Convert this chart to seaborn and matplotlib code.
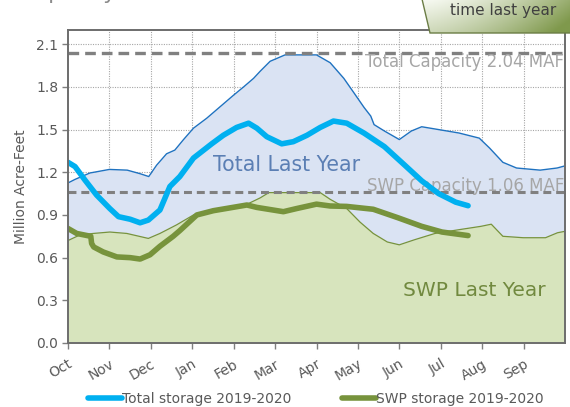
import numpy as np
import pandas as pd
import seaborn as sns
import matplotlib
matplotlib.use("Agg")
import matplotlib.pyplot as plt
from matplotlib.patches import Polygon

# ---------------- data (x in months since Oct 1) ----------------
month_labels = ["Oct", "Nov", "Dec", "Jan", "Feb", "Mar", "Apr", "May", "Jun", "Jul", "Aug", "Sep"]
y_ticks = [0.0, 0.3, 0.6, 0.9, 1.2, 1.5, 1.8, 2.1]

total_last_x = [0, 0.17, 0.53, 1.0, 1.43, 1.74, 1.95, 2.14, 2.38, 2.58, 2.79, 3.03, 3.35, 3.67, 3.99,
                4.24, 4.48, 4.64, 4.88, 5.24, 6.0, 6.33, 6.66, 6.90, 7.15, 7.31, 7.39, 7.64, 8.0,
                8.29, 8.54, 8.95, 9.44, 9.93, 10.18, 10.5, 10.83, 11.4, 11.81, 12.0]
total_last_y = [1.125, 1.15, 1.195, 1.22, 1.215, 1.19, 1.17, 1.25, 1.33, 1.356, 1.43, 1.51, 1.58, 1.66, 1.74,
                1.80, 1.86, 1.91, 1.98, 2.025, 2.025, 1.97, 1.86, 1.76, 1.655, 1.595, 1.535, 1.49, 1.43,
                1.49, 1.52, 1.50, 1.476, 1.44, 1.37, 1.27, 1.23, 1.215, 1.23, 1.245]

swp_last_x = [0, 0.29, 0.61, 1.01, 1.42, 1.94, 2.22, 2.62, 3.03, 3.43, 3.83, 4.32, 4.64, 4.85, 6.09,
              6.33, 6.73, 7.05, 7.37, 7.71, 8.0, 8.37, 8.86, 9.52, 9.97, 10.22, 10.5, 10.99, 11.53,
              11.82, 12.0]
swp_last_y = [0.72, 0.76, 0.77, 0.78, 0.77, 0.735, 0.77, 0.83, 0.90, 0.92, 0.945, 0.975, 1.02, 1.057, 1.057,
              1.01, 0.945, 0.85, 0.77, 0.71, 0.69, 0.726, 0.77, 0.80, 0.82, 0.835, 0.75, 0.74, 0.74,
              0.775, 0.785]

total_now_x = [0, 0.17, 0.41, 0.69, 1.01, 1.22, 1.5, 1.74, 1.94, 2.22, 2.46, 2.70, 3.03, 3.47, 3.75,
               4.07, 4.36, 4.56, 4.80, 5.16, 5.44, 5.77, 6.09, 6.41, 6.73, 7.15, 7.64, 8.13, 8.54,
               8.95, 9.36, 9.66]
total_now_y = [1.27, 1.24, 1.145, 1.04, 0.945, 0.888, 0.87, 0.845, 0.864, 0.935, 1.10, 1.17, 1.30, 1.40, 1.46,
               1.515, 1.545, 1.51, 1.45, 1.40, 1.415, 1.46, 1.515, 1.56, 1.545, 1.475, 1.38, 1.25, 1.14,
               1.05, 0.99, 0.965]

swp_now_x = [0, 0.21, 0.55, 0.57, 0.62, 0.85, 1.18, 1.5, 1.74, 1.98, 2.22, 2.54, 2.7, 3.11, 3.51,
             4.32, 4.56, 5.2, 5.52, 6.0, 6.33, 6.73, 7.37, 7.97, 8.54, 9.03, 9.66]
swp_now_y = [0.805, 0.77, 0.75, 0.70, 0.675, 0.64, 0.605, 0.60, 0.59, 0.62, 0.68, 0.75, 0.79, 0.90, 0.93,
             0.97, 0.953, 0.923, 0.945, 0.976, 0.963, 0.96, 0.94, 0.88, 0.82, 0.78, 0.755]

total_capacity = 2.04
swp_capacity = 1.06

# ---------------- style ----------------
sns.set_style("white")
plt.rcParams["font.family"] = ["DejaVu Sans"]
tick_col = "#595959"

fig = plt.figure(figsize=(5.70, 4.07), dpi=100)
ax = fig.add_axes([68 / 570, 1 - 343 / 407, 497 / 570, 313 / 407])

# grid
for m in range(1, 12):
    ax.axvline(m, color="#a6a6a6", lw=0.8, ls=(0, (1, 1.2)), zorder=0)
for t in y_ticks:
    ax.axhline(t, color="#a6a6a6", lw=0.8, ls=(0, (1, 1.2)), zorder=0)

# last-year areas
ax.fill_between(total_last_x, 0, total_last_y, color="#dae3f3", lw=0, zorder=1)
sns.lineplot(x=total_last_x, y=total_last_y, ax=ax, color="#1f72c0", lw=1.0, sort=False, zorder=1.5)
ax.fill_between(swp_last_x, 0, swp_last_y, color="#d7e4bd", lw=0, zorder=2)
sns.lineplot(x=swp_last_x, y=swp_last_y, ax=ax, color="#77933c", lw=0.9, sort=False, zorder=2.5)

# capacity lines
ax.axhline(total_capacity, color="#808080", lw=2.4, ls=(0, (3.2, 1.8)), zorder=3)
ax.axhline(swp_capacity, color="#808080", lw=2.2, ls=(0, (2.6, 1.6)), zorder=3)

ax.text(7.17, 1.975, f"Total Capacity {total_capacity:.2f} MAF", color="#a6a6a6", fontsize=12,
        va="center", ha="left", zorder=3.2, clip_on=True)
ax.text(7.22, 1.105, f"SWP Capacity {swp_capacity:.2f} MAF", color="#a6a6a6", fontsize=12,
        va="center", ha="left", zorder=3.2, clip_on=True)
ax.text(3.5, 1.21, "Total Last Year", color="#5b7fb4", fontsize=14.8, va="baseline", ha="left", zorder=3.2)
ax.text(8.09, 0.33, "SWP Last Year", color="#71893f", fontsize=14.5, va="baseline", ha="left", zorder=3.2)

# current year lines
sns.lineplot(x=total_now_x, y=total_now_y, ax=ax, color="#00b0f0", lw=4.0, sort=False, zorder=4,
             label="Total storage 2019-2020", solid_capstyle="round")
sns.lineplot(x=swp_now_x, y=swp_now_y, ax=ax, color="#77933c", lw=4.0, sort=False, zorder=4,
             label="SWP storage 2019-2020", solid_capstyle="round")

# axes
ax.set_xlim(0, 12)
ax.set_ylim(0, 2.2)
ax.set_xticks(range(12))
ax.set_xticklabels(month_labels, rotation=30, ha="right", rotation_mode="anchor")
ax.set_yticks(y_ticks)
ax.set_yticklabels([f"{t:.1f}" for t in y_ticks])
ax.tick_params(axis="both", direction="out", length=4, width=1, color="#7f7f7f",
               labelsize=10, labelcolor=tick_col, left=True, bottom=True, pad=3)
ax.tick_params(axis="x", pad=6)
ax.set_ylabel("Million Acre-Feet", fontsize=10, color=tick_col, labelpad=6)
ax.set_xlabel("")
for s in ax.spines.values():
    s.set_color("#6d6d6d")
    s.set_linewidth(1.4)
    s.set_zorder(5)

leg = ax.legend(loc="center", bbox_to_anchor=(0.554, 0.02), bbox_transform=fig.transFigure, ncol=2,
                frameon=False, fontsize=10, handlelength=2.4, handletextpad=0.0, columnspacing=3.7)
for t in leg.get_texts():
    t.set_color(tick_col)

# partially visible heading at the top-left
fig.text(20 / 570, 1.0 + 1 / 407, "Capacity", fontsize=16, color="#8c8c8c", va="baseline", ha="left")

# callout box at the top-right
bx0, by0, bw, bh = 418, 0, 152, 34
cax = fig.add_axes([bx0 / 570, 1 - (by0 + bh) / 407, bw / 570, bh / 407])
cax.set_axis_off()
cax.set_xlim(0, bw)
cax.set_ylim(bh, 0)
gx, gy = np.meshgrid(np.linspace(0, 1, 200), np.linspace(0, 1, 60))
g = np.clip(0.8 * gx ** 1.5 + 0.35 * gy, 0, 1)
c0 = np.array([0.97, 0.98, 0.95])
c1 = np.array([0.50, 0.60, 0.30])
img = c0[None, None, :] * (1 - g[..., None]) + c1[None, None, :] * g[..., None]
im = cax.imshow(img, extent=(0, bw, bh, 0), aspect="auto", zorder=1)
poly = Polygon([(4, -1), (12, 33), (bw + 2, 33), (bw + 2, -1)], closed=True,
               facecolor="none", edgecolor="#6b7d45", lw=1.0, zorder=2)
cax.add_patch(poly)
im.set_clip_path(poly)
cax.text(85, 11, "time last year", fontsize=11, color="#404040", ha="center", va="center", zorder=3)

fig.savefig("out.png", dpi=100)
